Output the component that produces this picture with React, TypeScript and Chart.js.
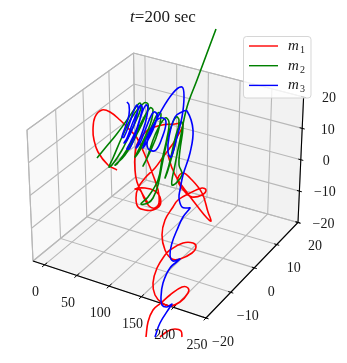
import React, { useEffect, useRef } from "react";
import { Chart, registerables } from "chart.js";

Chart.register(...registerables);

type P = number[];

const titleItalic = "t";
const titleRest = "=200 sec";
const xTicks = [0, 50, 100, 150, 200, 250];
const yTicks = [-20, -10, 0, 10, 20];
const zTicks = [-20, -10, 0, 10, 20];

// Traces, in the picture's own units
const m1Loop: P[] = [[117,170],[108,165],[98,152],[94,140],[93,130],[95,117],[102,110],[110,112],[120,120],[130,130],[137,138],[147,160],[153,175],[158,190],[159,203],[155,208],[149,206],[144,198],[140,190],[135,189],[145,188],[155,191],[160,197],[160,205],[153,210],[145,210],[138,207],[136,198],[138,188],[145,178],[155,168],[163,157],[172,145],[180,132],[183,123],[175,124],[162,125],[148,130],[138,142],[135,155],[135,170],[137,182],[142,193],[148,203]];
const m1Lower: P[] = [[168,155],[172,168],[178,180],[188,194],[198,207],[207,218],[211,221],[208,212],[202,193],[190,178],[183,173],[178,178],[179,184],[185,192],[192,197],[202,195],[206,190],[202,188],[190,193],[178,200],[173,207],[165,220],[162,235],[165,250],[172,259],[180,259],[192,253],[196,247],[193,243],[183,243],[170,250],[165,255],[157,268],[153,283],[155,295],[162,303],[170,306],[180,302],[188,293],[188,288],[182,287],[170,295],[161,303],[153,310],[148,322],[146,337]];
const m1End: P[] = [[160,337],[168,331],[175,329],[181,331],[182,337]];
const m2Path: P[] = [[97,158],[106,147],[116,135],[127,120],[136,107],[140,103],[141,108],[134,125],[122,150],[112,165],[109,167],[113,158],[122,137],[132,117],[144,103],[148,104],[147,112],[138,132],[125,155],[115,165],[117,164],[128,148],[140,125],[150,108],[153,110],[150,125],[141,145],[135,157],[140,150],[150,130],[158,113],[161,114],[158,132],[150,152],[143,166],[147,158],[155,135],[165,118],[169,122],[167,138],[162,160],[158,180],[148,197],[141,204],[148,203],[153,198],[158,185],[163,160],[170,130],[176,117],[179,120],[176,140],[168,170],[165,178],[169,165],[176,135],[181,122],[183,127],[180,150],[179,165],[182,175],[172,185],[175,165],[180,140],[187,107],[197,80],[216,29]];
const m3Path: P[] = [[127,102],[129,105],[129,115],[125,128],[122,137],[124,137],[130,122],[134,110],[137,105],[138,110],[134,125],[127,140],[124,143],[127,138],[133,122],[139,108],[141,105],[142,110],[137,128],[130,143],[127,149],[130,148],[136,133],[142,113],[146,105],[148,108],[145,124],[139,141],[136,148],[140,143],[146,128],[152,114],[155,112],[157,116],[153,130],[143,148],[148,135],[157,120],[163,118],[166,123],[162,138],[156,150],[150,150],[147,145],[150,133],[160,113],[173,93],[182,87],[184,97],[182,117],[177,137],[171,157],[168,152],[169,137],[175,117],[182,112],[187,111],[193,130],[190,153],[183,175],[180,190],[179,198],[182,207],[188,208],[190,208],[183,217],[177,230],[172,243],[170,255],[173,261],[180,259],[170,268],[163,283],[161,297],[162,305],[167,307],[172,304],[170,307],[160,323],[155,337]];

const seriesLabels = ["1", "2", "3"];
const seriesColors = ["#ff0000", "#008000", "#0000ff"];

const xMin = -18, xMax = 250, yMin = -20, yMax = 20, zMin = -20, zMax = 20;
const C: Record<string, number[]> = {
  "000": [33, 261], "100": [206, 318], "110": [298, 222.5], "010": [135.5, 177],
  "001": [27, 130], "011": [133.5, 53], "111": [303.6, 97], "101": [204, 190],
};
function warp(t: number) { return t + 0.1 * t * (1 - t); }
function frac3(a: number, b: number, c: number) {
  const out = [0, 0];
  for (const k of Object.keys(C)) {
    const w = (k[0] === "1" ? a : 1 - a) * (k[1] === "1" ? b : 1 - b) * (k[2] === "1" ? c : 1 - c);
    out[0] += w * C[k][0];
    out[1] += w * C[k][1];
  }
  return { x: out[0], y: out[1] };
}
const fx = (v: number) => (v - xMin) / (xMax - xMin);
const fy = (v: number) => warp((v - yMin) / (yMax - yMin));
const fz = (v: number) => (v - zMin) / (zMax - zMin);

const toXY = (arr: P[]) => arr.map(([x, y]) => ({ x, y }));
const gap = [{ x: NaN, y: NaN }];

function curve(label: string, color: string, data: any[], order: number) {
  return { label, data, showLine: true, borderColor: color, backgroundColor: color, borderWidth: 1.6, pointRadius: 0, tension: 0.4, order, spanGaps: false, fill: false };
}
function seg(data: any[], color: string, width: number, order: number) {
  return { label: "", data, showLine: true, borderColor: color, borderWidth: width, pointRadius: 0, tension: 0, order, fill: false };
}
function pane(data: any[], color: string) {
  return { label: "", data, showLine: true, borderWidth: 0, borderColor: color, backgroundColor: color, pointRadius: 0, tension: 0, order: 30, fill: "shape" };
}

function buildDatasets() {
  const ds: any[] = [
    curve("m1", seriesColors[0], [...toXY(m1Loop), ...gap, ...toXY(m1Lower), ...gap, ...toXY(m1End)], 2),
    curve("m2", seriesColors[1], toXY(m2Path), 1),
    curve("m3", seriesColors[2], toXY(m3Path), 0),
  ];
  ds.push(pane([frac3(0,0,0), frac3(0,1,0), frac3(0,1,1), frac3(0,0,1)], "#f9f9f9"));
  ds.push(pane([frac3(0,1,0), frac3(1,1,0), frac3(1,1,1), frac3(0,1,1)], "#f2f2f2"));
  ds.push(pane([frac3(0,0,0), frac3(1,0,0), frac3(1,1,0), frac3(0,1,0)], "#f5f5f5"));
  const grid = "#b8b8b8";
  for (const v of xTicks) {
    const a = fx(v);
    ds.push(seg([frac3(a,0,0), frac3(a,1,0), frac3(a,1,1)], grid, 1.1, 20));
    ds.push(seg([frac3(a,-0.025,0), frac3(a,0.025,0)], "#000", 1, 5));
  }
  for (const v of yTicks) {
    const b = fy(v);
    ds.push(seg([frac3(1,b,0), frac3(0,b,0), frac3(0,b,1)], grid, 1.1, 20));
    ds.push(seg([frac3(0.985,b,0), frac3(1.015,b,0)], "#000", 1, 5));
  }
  for (const v of zTicks) {
    const c = fz(v);
    ds.push(seg([frac3(0,0,c), frac3(0,1,c), frac3(1,1,c)], grid, 1.1, 20));
    ds.push(seg([frac3(0.985,1,c), frac3(1.015,1,c)], "#000", 1, 5));
  }
  ds.push(seg([frac3(0,0,0), frac3(0,1,0)], grid, 1.1, 20));
  ds.push(seg([frac3(0,0,0), frac3(0,0,1), frac3(0,1,1), frac3(1,1,1)], grid, 1.1, 20));
  ds.push(seg([frac3(0,1,0), frac3(0,1,1)], grid, 1.1, 20));
  ds.push(seg([frac3(0,0,0), frac3(1,0,0), frac3(1,1,0), frac3(1,1,1)], "#000", 1.1, 5));
  return ds;
}

const SERIF = '"Liberation Serif", serif';

const decorations = {
  id: "decorations",
  afterDraw(chart: any) {
    const ctx = chart.ctx as CanvasRenderingContext2D;
    ctx.save();
    ctx.fillStyle = "#1a1a1a";
    ctx.textAlign = "center";
    ctx.textBaseline = "middle";
    ctx.font = `14px ${SERIF}`;
    const fmt = (v: number) => (v < 0 ? "\u2212" + Math.abs(v) : String(v));
    for (const v of xTicks) { const p = frac3(fx(v), 0, 0); ctx.fillText(fmt(v), p.x - 9, p.y + 27.5); }
    for (const v of yTicks) { const p = frac3(1, fy(v), 0); ctx.fillText(fmt(v), p.x + 17, p.y + 24); }
    for (const v of zTicks) { const p = frac3(1, 1, fz(v)); ctx.fillText(fmt(v), p.x + 25.5, p.y + 1.5); }

    // title
    ctx.textAlign = "left";
    ctx.textBaseline = "alphabetic";
    ctx.font = `italic 17px ${SERIF}`;
    const w1 = ctx.measureText(titleItalic).width;
    ctx.font = `17px ${SERIF}`;
    const w2 = ctx.measureText(titleRest).width;
    const tx = 163 - (w1 + w2) / 2;
    ctx.font = `italic 17px ${SERIF}`;
    ctx.fillText(titleItalic, tx, 22);
    ctx.font = `17px ${SERIF}`;
    ctx.fillText(titleRest, tx + w1, 22);

    // legend
    const bx = 243.5, by = 36.5, bw = 67.5, bh = 61.5;
    ctx.beginPath();
    ctx.roundRect(bx, by, bw, bh, 3);
    ctx.fillStyle = "rgba(255,255,255,0.8)";
    ctx.fill();
    ctx.strokeStyle = "rgba(204,204,204,0.8)";
    ctx.lineWidth = 1;
    ctx.stroke();
    seriesLabels.forEach((s, i) => {
      const y = 46 + i * 19.7;
      ctx.strokeStyle = seriesColors[i];
      ctx.lineWidth = 1.4;
      ctx.beginPath();
      ctx.moveTo(249, y);
      ctx.lineTo(278, y);
      ctx.stroke();
      ctx.fillStyle = "#1a1a1a";
      ctx.font = `italic 15px ${SERIF}`;
      ctx.fillText("m", 288, y + 4);
      ctx.font = `10px ${SERIF}`;
      ctx.fillText(s, 300, y + 7);
    });
    ctx.restore();
  },
};

export default function App() {
  const ref = useRef<HTMLCanvasElement>(null);
  useEffect(() => {
    document.body.style.margin = "0";
    const chart = new Chart(ref.current as HTMLCanvasElement, {
      type: "scatter",
      data: { datasets: buildDatasets() },
      options: {
        animation: false,
        responsive: false,
        events: [],
        layout: { padding: 0 },
        plugins: { legend: { display: false }, tooltip: { enabled: false }, title: { display: false } },
        scales: {
          x: { type: "linear", min: 0, max: 347, display: false },
          y: { type: "linear", min: 0, max: 363, reverse: true, display: false },
        },
      },
      plugins: [decorations],
    } as any);
    return () => chart.destroy();
  }, []);
  return <canvas ref={ref} width={347} height={363} style={{ display: "block" }} />;
}
